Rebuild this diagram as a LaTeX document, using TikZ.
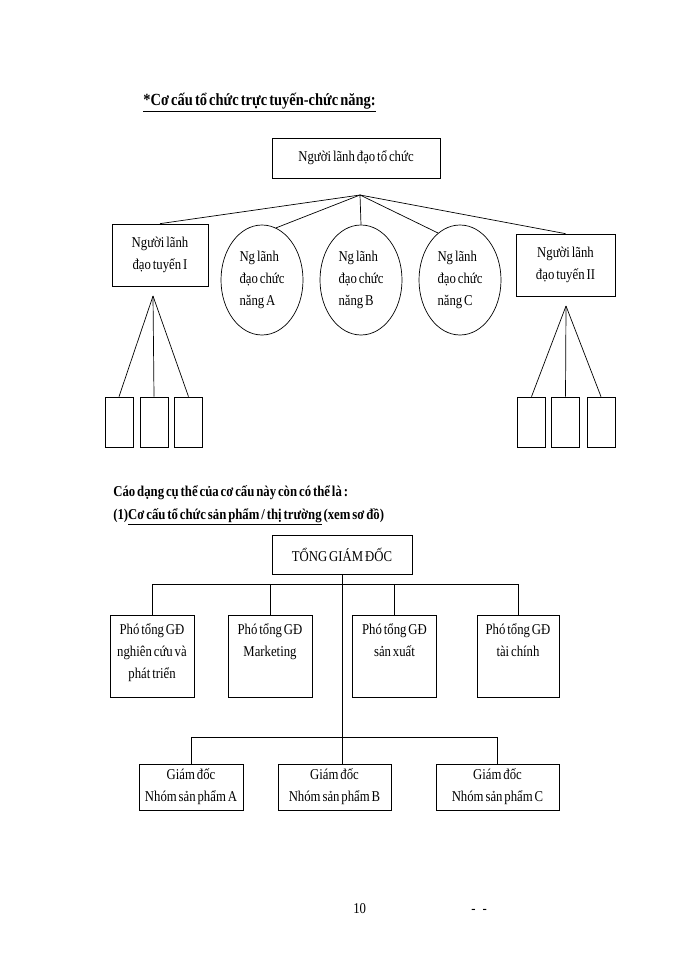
\documentclass[tikz,border=0pt]{standalone}
\usepackage{fontspec}
\setmainfont{Liberation Serif}[FakeStretch=0.85,WordSpace=0.6]
\usetikzlibrary{positioning,shapes.geometric}

\tikzset{
  box/.style={draw, rectangle, inner sep=0pt, align=center},
  oval/.style={draw, ellipse, inner sep=0pt, minimum width=82pt, minimum height=110pt, align=left},
  stub/.style={draw, rectangle, inner sep=0pt, minimum width=28pt, minimum height=50pt},
  vpbox/.style={draw, rectangle, inner sep=0pt, minimum width=84pt, minimum height=82pt},
  gdbox/.style={draw, rectangle, inner sep=0pt, minimum height=46pt, align=center},
  intext/.style={inner sep=0pt, align=center},
  heading/.style={anchor=base west, inner sep=0pt, font=\fontsize{15}{20}\selectfont\bfseries},
}

\begin{document}
\begin{tikzpicture}[x=1pt, y=-1pt, font=\fontsize{15}{22}\selectfont, line width=0.7pt]
  \useasboundingbox (0,0) rectangle (700,960);

  % title
  \node[heading, font=\fontsize{17}{20}\selectfont\bfseries] (title) at (143,106)
    {\underline{*Cơ cấu tổ chức trực tuyến-chức năng:}};

  % line-function structure
  \node[box, minimum width=168pt, minimum height=40pt] (head) at (356,158) {Người lãnh đạo tổ chức};
  \coordinate (fan) at (360,195);
  \node[box, minimum width=96pt, minimum height=62pt] (lineI) at (160,255) {Người lãnh\\đạo tuyến I};
  \node[oval] (funcA) at (262,280) {Ng lãnh\\đạo chức\\năng A};
  \node[oval] (funcB) at (361,280) {Ng lãnh\\đạo chức\\năng B};
  \node[oval] (funcC) at (460,280) {Ng lãnh\\đạo chức\\năng C};
  \node[box, minimum width=99pt, minimum height=62pt] (lineII) at (565.5,265) {Người lãnh\\đạo tuyến II};

  \draw (fan) -- (lineI.north);
  \draw (fan) -- (funcA.75);
  \draw (fan) -- (funcB.north);
  \draw (fan) -- (funcC.115);
  \draw (fan) -- (lineII.north);

  % units under each line manager
  \coordinate (fanI) at (153,296);
  \foreach \n/\x in {1/119,2/154,3/188.5} {
    \node[stub] (unitI\n) at (\x,422) {};
    \draw (fanI) -- (unitI\n.north);
  }
  \coordinate (fanII) at (566,306);
  \foreach \n/\x in {1/531.5,2/565.5,3/601} {
    \node[stub] (unitII\n) at (\x,422) {};
    \draw (fanII) -- (unitII\n.north);
  }

  % product / market structure
  \node[heading] (intro) at (113,496) {Cáo dạng cụ thể của cơ cấu này còn có thể là :};
  \node[heading] (kind) at (113,519) {(1)\underline{Cơ cấu tổ chức sản phẩm / thị trường} (xem sơ đồ)};

  \node[box, minimum width=140pt, minimum height=39pt] (ceo) at (342,554.5) {TỔNG GIÁM ĐỐC};

  \node[vpbox] (vpRD) at (152,656) {};
  \node[vpbox] (vpMkt) at (270,656) {};
  \node[vpbox] (vpProd) at (394.5,656) {};
  \node[vpbox, minimum width=82pt] (vpFin) at (518,656) {};
  \node[intext, below=9pt of vpRD.north] (vpRDtext) {Phó tổng GĐ\\nghiên cứu và\\phát triển};
  \node[intext, below=9pt of vpMkt.north] (vpMkttext) {Phó tổng GĐ\\Marketing};
  \node[intext, below=9pt of vpProd.north] (vpProdtext) {Phó tổng GĐ\\sản xuất};
  \node[intext, below=9pt of vpFin.north] (vpFintext) {Phó tổng GĐ\\tài chính};

  \node[gdbox, minimum width=104pt] (gdA) at (191,787) {Giám đốc\\Nhóm sản phẩm A};
  \node[gdbox, minimum width=113pt] (gdB) at (334.5,787) {Giám đốc\\Nhóm sản phẩm B};
  \node[gdbox, minimum width=123pt] (gdC) at (497.5,787) {Giám đốc\\Nhóm sản phẩm C};

  % connectors
  \draw (ceo.south) -- ++(0,10) coordinate (bus);
  \draw (vpRD.north) |- (bus) -| (vpFin.north);
  \draw (vpMkt.north) -- (vpMkt.north |- bus);
  \draw (vpProd.north) -- (vpProd.north |- bus);
  \draw (ceo.south) -- (ceo.south |- gdB.north);
  \draw (gdA.north) -- ++(0,-26) -| (gdC.north);

  % page footer
  \node[anchor=base west, inner sep=0pt] (pageno) at (353,913) {10};
  \node[anchor=base west, inner sep=0pt] (dashes) at (471,913) {-\hspace{7pt}-};
\end{tikzpicture}
\end{document}
